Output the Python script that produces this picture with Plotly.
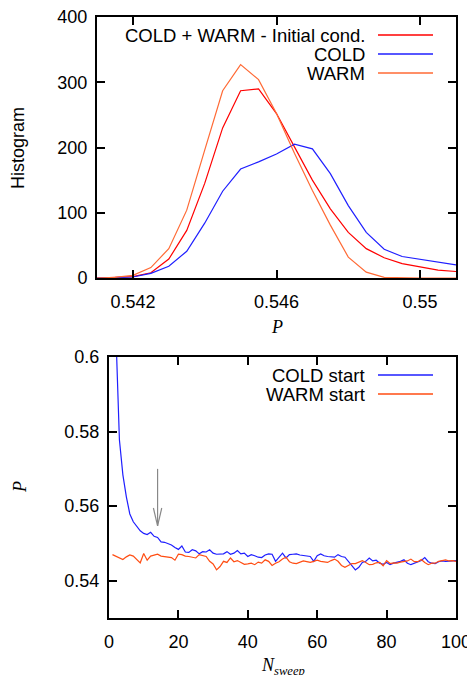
import plotly.graph_objects as go

# The page puts the figure 8px in from the top-left corner, so the figure is
# made 8px smaller and all reference pixel positions are shifted by OFF
OFF = 8
W, H = 475 - OFF, 675 - OFF

# Top panel: histogram of P
p_bins = [0.541, 0.5415, 0.542, 0.5425, 0.543, 0.5435, 0.544, 0.5445, 0.545, 0.5455, 0.546,
          0.5465, 0.547, 0.5475, 0.548, 0.5485, 0.549, 0.5495, 0.55, 0.5505, 0.551]
hist_all = [0, 1, 2, 8, 29, 73, 145, 230, 287, 290, 252, 201, 150, 106, 70, 45, 31, 22, 17, 12, 10]
hist_cold = [0, 0.5, 1.5, 7, 18, 41, 84, 133, 167, 178, 190, 205, 198, 160, 111, 70, 44, 33, 29, 25, 20]
hist_warm = [0, 1, 4, 16, 45, 104, 196, 287, 327, 304, 252, 191, 134, 81, 32, 9, 1, 0, 0, 0, 0]

# Bottom panel: P vs number of sweeps
n_sweep = list(range(1, 101))
p_cold = [0.700, 0.606, 0.5778, 0.5684, 0.5625, 0.5579, 0.5558, 0.5545, 0.5534, 0.5527,
          0.5524, 0.5530, 0.5519, 0.5516, 0.5504, 0.5503, 0.5500, 0.5496, 0.5489, 0.5484,
          0.5493, 0.5477, 0.5476, 0.5483, 0.5480, 0.5472, 0.5478, 0.5477, 0.5483, 0.5474,
          0.5471, 0.5471, 0.5472, 0.5478, 0.5471, 0.5474, 0.5481, 0.5472, 0.5474, 0.5465,
          0.5470, 0.5467, 0.5463, 0.5462, 0.5469, 0.5472, 0.5471, 0.5452, 0.5462, 0.5474,
          0.5461, 0.5470, 0.5471, 0.5472, 0.5469, 0.5467, 0.5465, 0.5465, 0.5452, 0.5467,
          0.5472, 0.5467, 0.5465, 0.5464, 0.5463, 0.5470, 0.5465, 0.5463, 0.5452, 0.5443,
          0.5429, 0.5436, 0.5449, 0.5452, 0.5461, 0.5453, 0.5455, 0.5447, 0.5444, 0.5449,
          0.5443, 0.5447, 0.5449, 0.5452, 0.5456, 0.5447, 0.5443, 0.5447, 0.5450, 0.5454,
          0.5462, 0.5451, 0.5447, 0.5446, 0.5451, 0.5453, 0.5452, 0.5452, 0.5452, 0.5454]
p_warm = [0.5470, 0.5466, 0.5460, 0.5457, 0.5464, 0.5469, 0.5466, 0.5457, 0.5448, 0.5473,
          0.5455, 0.5466, 0.5469, 0.5471, 0.5466, 0.5465, 0.5464, 0.5462, 0.5455, 0.5471,
          0.5470, 0.5466, 0.5465, 0.5463, 0.5461, 0.5470, 0.5467, 0.5465, 0.5452, 0.5445,
          0.5429, 0.5438, 0.5452, 0.5449, 0.5461, 0.5451, 0.5454, 0.5449, 0.5444, 0.5445,
          0.5447, 0.5443, 0.5450, 0.5447, 0.5456, 0.5452, 0.5441, 0.5447, 0.5451, 0.5458,
          0.5463, 0.5451, 0.5447, 0.5446, 0.5450, 0.5453, 0.5451, 0.5449, 0.5452, 0.5455,
          0.5452, 0.5450, 0.5449, 0.5454, 0.5458, 0.5452, 0.5441, 0.5436, 0.5440, 0.5446,
          0.5446, 0.5451, 0.5454, 0.5449, 0.5443, 0.5444, 0.5448, 0.5449, 0.5440, 0.5454,
          0.5446, 0.5448, 0.5447, 0.5450, 0.5452, 0.5453, 0.5458, 0.5451, 0.5451, 0.5457,
          0.5449, 0.5443, 0.5447, 0.5447, 0.5452, 0.5454, 0.5456, 0.5453, 0.5454, 0.5452]

# Colours
red = '#ff0000'
blue = '#1f1fff'
orange_top = '#ff6a35'
orange_bot = '#ff4d12'

sans = 'Liberation Sans, Arial, sans-serif'
serif = 'Liberation Serif, Times New Roman, serif'
fs = 18


def px_x(v):
    return (v - OFF) / W


def px_y(v):
    return 1 - (v - OFF) / H


fig = go.Figure()

# top panel
fig.add_trace(go.Scatter(x=p_bins, y=hist_all, mode='lines', line=dict(color=red, width=1.2),
                         xaxis='x', yaxis='y'))
fig.add_trace(go.Scatter(x=p_bins, y=hist_cold, mode='lines', line=dict(color=blue, width=1.2),
                         xaxis='x', yaxis='y'))
fig.add_trace(go.Scatter(x=p_bins, y=hist_warm, mode='lines', line=dict(color=orange_top, width=1.2),
                         xaxis='x', yaxis='y'))
# bottom panel
fig.add_trace(go.Scatter(x=n_sweep, y=p_cold, mode='lines', line=dict(color=blue, width=1.2),
                         xaxis='x2', yaxis='y2'))
fig.add_trace(go.Scatter(x=n_sweep, y=p_warm, mode='lines', line=dict(color=orange_bot, width=1.2),
                         xaxis='x2', yaxis='y2'))

# gnuplot-ish axes: box border, inside ticks mirrored
# ticklabeloverflow allow: otherwise the "400" at the very top gets hidden
ax = dict(showline=True, linecolor='black', linewidth=2, mirror='ticks', ticks='inside',
          ticklen=8, tickwidth=1.5, tickcolor='black', showgrid=False, zeroline=False,
          automargin=False, ticklabeloverflow='allow',
          tickfont=dict(family=sans, size=fs, color='black'), fixedrange=True)

fig.update_layout(
    template='none',
    width=W, height=H,
    margin=dict(l=0, r=0, t=0, b=0, pad=0, autoexpand=False),
    paper_bgcolor='white', plot_bgcolor='white',
    showlegend=False,
    xaxis=dict(ax, domain=[px_x(97), px_x(456)], anchor='y', range=[0.541, 0.551],
               tickvals=[0.542, 0.546, 0.55], ticktext=['0.542', '0.546', '0.55'],
               ticklabelstandoff=6),
    yaxis=dict(ax, domain=[px_y(278), px_y(17)], anchor='x', range=[0, 400],
               tickvals=[0, 100, 200, 300, 400], ticklabelstandoff=4),
    xaxis2=dict(ax, domain=[px_x(109), px_x(456)], anchor='y2', range=[0, 100],
                tickvals=[0, 20, 40, 60, 80, 100], ticklabelstandoff=6),
    yaxis2=dict(ax, domain=[px_y(618), px_y(357)], anchor='x2', range=[0.53, 0.6],
                tickvals=[0.54, 0.56, 0.58, 0.6], ticktext=['0.54', '0.56', '0.58', '0.6'],
                ticklabelstandoff=4),
)

# axis titles
title_font = dict(family=sans, size=fs, color='black')
key_font = dict(family=sans, size=18.5, color='black')
ital_font = dict(family=serif, size=fs, color='black')
fig.add_annotation(text='Histogram', xref='paper', yref='paper', x=px_x(18), y=px_y(148),
                   xanchor='center', yanchor='middle', textangle=-90, showarrow=False,
                   font=title_font)
fig.add_annotation(text='<i>P</i>', xref='paper', yref='paper', x=px_x(277), y=px_y(327),
                   xanchor='center', yanchor='middle', showarrow=False, font=ital_font)
fig.add_annotation(text='<i>P</i>', xref='paper', yref='paper', x=px_x(20), y=px_y(487),
                   xanchor='center', yanchor='middle', textangle=-90, showarrow=False,
                   font=ital_font)
fig.add_annotation(text='<i>N</i><sub><i>sweep</i></sub>', xref='paper', yref='paper',
                   x=px_x(283), y=px_y(653), xanchor='center', yanchor='top', showarrow=False,
                   font=ital_font)

# gnuplot style keys: right aligned text, line sample on the right
keys = [('COLD + WARM - Initial cond.', red, 35), ('COLD', blue, 54), ('WARM', orange_top, 73),
        ('COLD start', blue, 375), ('WARM start', orange_bot, 394)]
for label, col, yy in keys:
    fig.add_annotation(text=label, xref='paper', yref='paper', x=px_x(367), y=px_y(yy),
                       xanchor='right', yanchor='middle', showarrow=False, font=key_font)
    fig.add_shape(type='line', xref='paper', yref='paper', x0=px_x(378), x1=px_x(433),
                  y0=px_y(yy), y1=px_y(yy), line=dict(color=col, width=1.5))

# grey arrow marking the end of thermalisation
arrow_x = 14
arrow_top, arrow_tip, head = 0.570, 0.5547, 0.5595
fig.add_shape(type='line', xref='x2', yref='y2', x0=arrow_x, x1=arrow_x, y0=arrow_top, y1=arrow_tip,
              line=dict(color='#888888', width=1.2))
for dx in (-1.2, 1.2):
    fig.add_shape(type='line', xref='x2', yref='y2', x0=arrow_x + dx, x1=arrow_x, y0=head, y1=arrow_tip,
                  line=dict(color='#888888', width=1.2))

fig.write_html('out.html')
